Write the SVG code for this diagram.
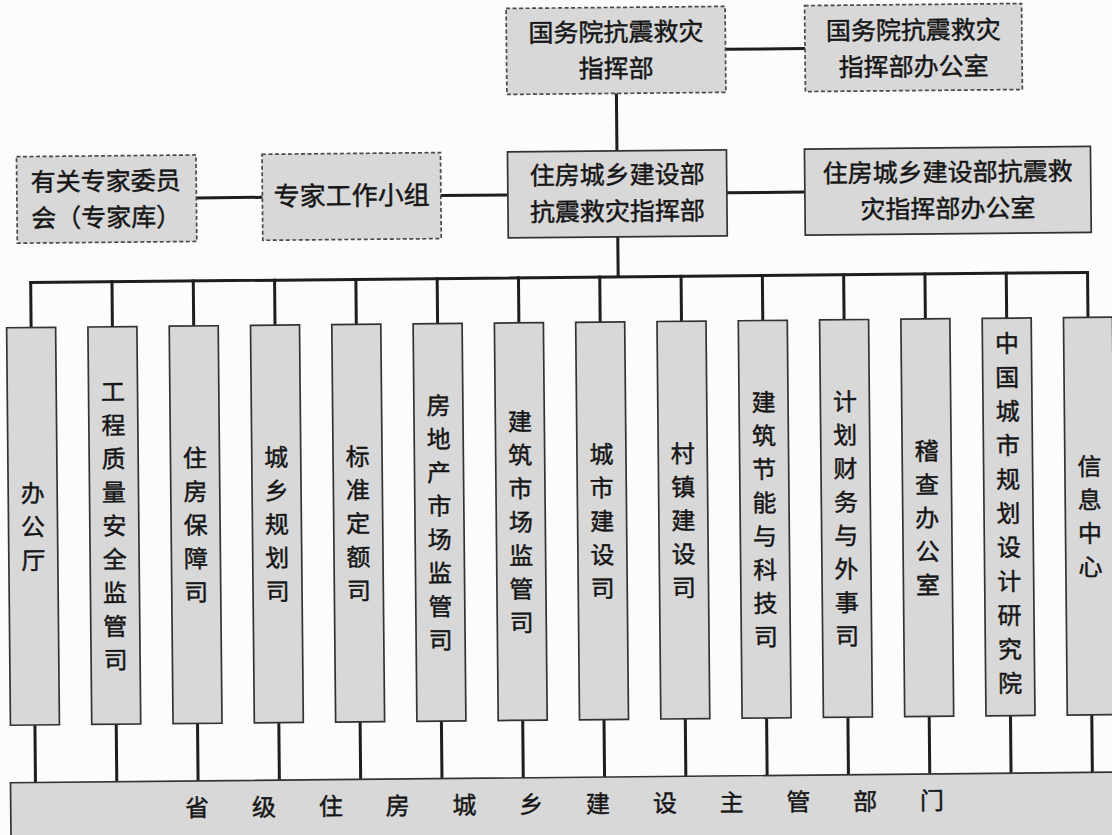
<svg xmlns="http://www.w3.org/2000/svg" width="1112" height="835" viewBox="0 0 1112 835">
<style>
.box{fill:#d8d8d8;stroke:#333;stroke-width:1.7}
.dash{stroke-dasharray:4 2.5;stroke:#4a4a4a}
.conn{stroke:#1e1e1e;stroke-width:3;fill:none;stroke-linecap:square}
.t{font-family:"Noto Sans CJK SC","Noto Sans CJK TC",sans-serif;fill:#161616;stroke:#161616;stroke-width:0.45;text-anchor:middle}
.t25{font-size:25px}
.t26{font-size:26px}
.t24{font-size:24px}
</style>
<rect x="0" y="0" width="1112" height="835" fill="#fcfcfc"/>
<g transform="rotate(-0.55 556 417)">
<g id="connectors">
<path class="conn" d="M729 51H808.5M619.5 94V151.5M729 194.5H807M198.5 194.5H264.5M443 194.5H510M619.5 237.5V277.5M32 277.5H1088.9"/>
<path class="conn" d="M32 277.5V322.5M113.3 277.5V322.5M194.6 277.5V322.5M275.9 277.5V322.5M357.2 277.5V322.5M438.5 277.5V322.5M519.8 277.5V322.5M601.1 277.5V322.5M682.4 277.5V322.5M763.7 277.5V322.5M845 277.5V322.5M926.3 277.5V322.5M1007.6 277.5V322.5M1088.9 277.5V322.5"/>
<path class="conn" d="M32 720V777.5M113.3 720V777.5M194.6 720V777.5M275.9 720V777.5M357.2 720V777.5M438.5 720V777.5M519.8 720V777.5M601.1 720V777.5M682.4 720V777.5M763.7 720V777.5M845 720V777.5M926.3 720V777.5M1007.6 720V777.5M1088.9 720V777.5"/>
</g>
<g id="n_gwy">
<rect class="box dash" x="510" y="8" width="219" height="86"/>
<text class="t t25"><tspan x="619.5" y="41.7">国务院抗震救灾</tspan><tspan x="619.5" y="78.1">指挥部</tspan></text>
</g>
<g id="n_gwy_office">
<rect class="box dash" x="808.5" y="8" width="217" height="86"/>
<text class="t t25"><tspan x="917" y="42.7">国务院抗震救灾</tspan><tspan x="917" y="79.1">指挥部办公室</tspan></text>
</g>
<g id="n_zfb">
<rect class="box" x="510" y="151.5" width="219" height="86"/>
<text class="t t25"><tspan x="619.5" y="184.5">住房城乡建设部</tspan><tspan x="619.5" y="220.9">抗震救灾指挥部</tspan></text>
</g>
<g id="n_zfb_office">
<rect class="box" x="807" y="151.5" width="286" height="86"/>
<text class="t t25"><tspan x="950" y="185">住房城乡建设部抗震救</tspan><tspan x="950" y="221.4">灾指挥部办公室</tspan></text>
</g>
<g id="n_experts_committee">
<rect class="box dash" x="19" y="151.5" width="179.5" height="86.5"/>
<text class="t t25"><tspan x="108" y="185.9">有关专家委员</tspan><tspan x="108" y="222.3">会（专家库）</tspan></text>
</g>
<g id="n_expert_group">
<rect class="box dash" x="264.5" y="151.5" width="178.5" height="86"/>
<text class="t t26" x="353.7" y="203">专家工作小组</text>
</g>
<g id="d01"><rect class="box" x="7.5" y="322.5" width="49" height="397.5"/>
<text class="t t24" x="32 32 32" y="497 530.5 564">办公厅</text></g>
<g id="d02"><rect class="box" x="88.8" y="322.5" width="49" height="397.5"/>
<text class="t t24" x="113.3 113.3 113.3 113.3 113.3 113.3 113.3 113.3 113.3" y="396.5 430 463.5 497 530.5 564 597.5 631 664.5">工程质量安全监管司</text></g>
<g id="d03"><rect class="box" x="170.1" y="322.5" width="49" height="397.5"/>
<text class="t t24" x="194.6 194.6 194.6 194.6 194.6" y="463.5 497 530.5 564 597.5">住房保障司</text></g>
<g id="d04"><rect class="box" x="251.4" y="322.5" width="49" height="397.5"/>
<text class="t t24" x="275.9 275.9 275.9 275.9 275.9" y="463.5 497 530.5 564 597.5">城乡规划司</text></g>
<g id="d05"><rect class="box" x="332.7" y="322.5" width="49" height="397.5"/>
<text class="t t24" x="357.2 357.2 357.2 357.2 357.2" y="463.5 497 530.5 564 597.5">标准定额司</text></g>
<g id="d06"><rect class="box" x="414" y="322.5" width="49" height="397.5"/>
<text class="t t24" x="438.5 438.5 438.5 438.5 438.5 438.5 438.5 438.5" y="413.25 446.75 480.25 513.75 547.25 580.75 614.25 647.75">房地产市场监管司</text></g>
<g id="d07"><rect class="box" x="495.3" y="322.5" width="49" height="397.5"/>
<text class="t t24" x="519.8 519.8 519.8 519.8 519.8 519.8 519.8" y="430 463.5 497 530.5 564 597.5 631">建筑市场监管司</text></g>
<g id="d08"><rect class="box" x="576.6" y="322.5" width="49" height="397.5"/>
<text class="t t24" x="601.1 601.1 601.1 601.1 601.1" y="463.5 497 530.5 564 597.5">城市建设司</text></g>
<g id="d09"><rect class="box" x="657.9" y="322.5" width="49" height="397.5"/>
<text class="t t24" x="682.4 682.4 682.4 682.4 682.4" y="463.5 497 530.5 564 597.5">村镇建设司</text></g>
<g id="d10"><rect class="box" x="739.2" y="322.5" width="49" height="397.5"/>
<text class="t t24" x="763.7 763.7 763.7 763.7 763.7 763.7 763.7 763.7" y="413.25 446.75 480.25 513.75 547.25 580.75 614.25 647.75">建筑节能与科技司</text></g>
<g id="d11"><rect class="box" x="820.5" y="322.5" width="49" height="397.5"/>
<text class="t t24" x="845 845 845 845 845 845 845 845" y="413.25 446.75 480.25 513.75 547.25 580.75 614.25 647.75">计划财务与外事司</text></g>
<g id="d12"><rect class="box" x="901.8" y="322.5" width="49" height="397.5"/>
<text class="t t24" x="926.3 926.3 926.3 926.3 926.3" y="463.5 497 530.5 564 597.5">稽查办公室</text></g>
<g id="d13"><rect class="box" x="983.1" y="322.5" width="49" height="397.5"/>
<text class="t t24" x="1007.6 1007.6 1007.6 1007.6 1007.6 1007.6 1007.6 1007.6 1007.6 1007.6 1007.6" y="356.5 390.5 424.5 458.5 492.5 526.5 560.5 594.5 628.5 662.5 696.5">中国城市规划设计研究院</text></g>
<g id="d14"><rect class="box" x="1064.4" y="322.5" width="49" height="397.5"/>
<text class="t t24" x="1088.9 1088.9 1088.9 1088.9" y="480.25 513.75 547.25 580.75">信息中心</text></g>
<g id="n_provincial">
<rect class="box" x="7" y="777.5" width="1130" height="70"/>
<text class="t t24" x="193.5 260.3 327.1 393.9 460.7 527.5 594.3 661.1 727.9 794.7 861.5 928.3" y="813">省级住房城乡建设主管部门</text>
</g>
</g>
</svg>
